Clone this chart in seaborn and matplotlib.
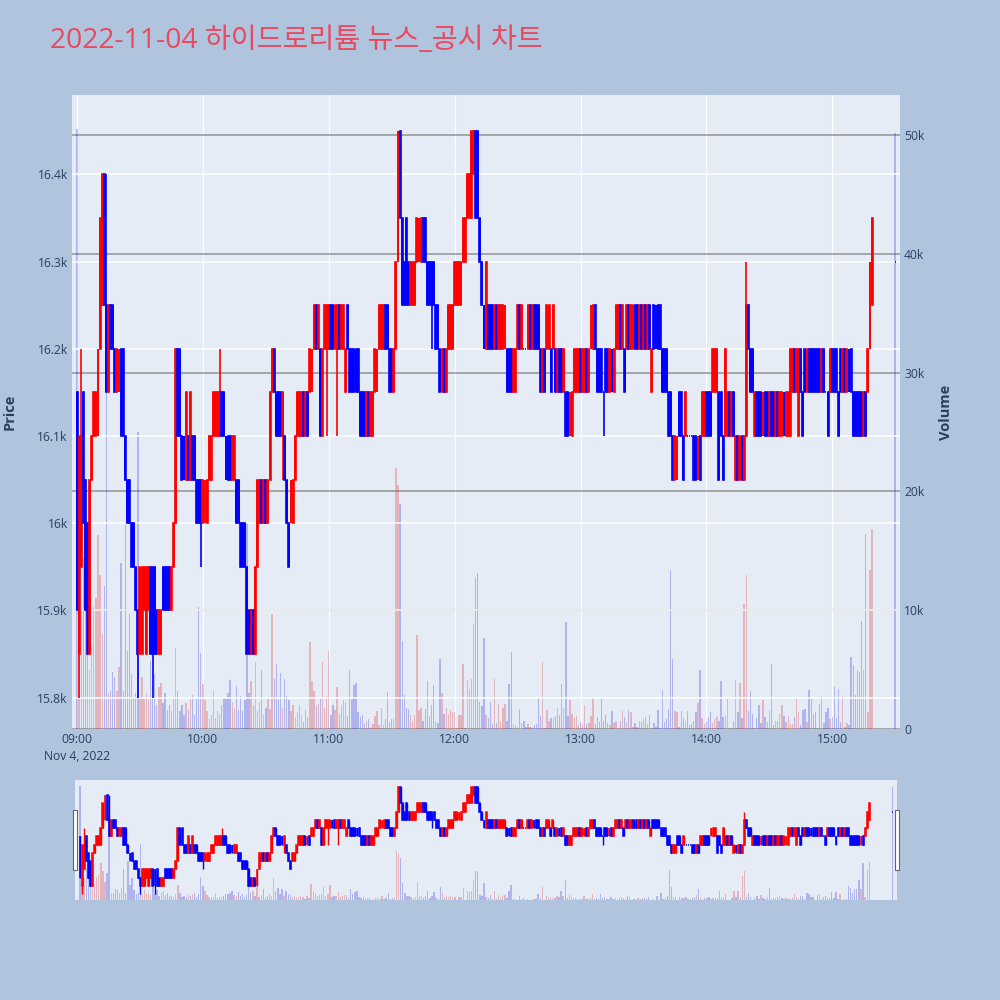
import numpy as np
import pandas as pd
import matplotlib
matplotlib.use("Agg")
import matplotlib.pyplot as plt
import seaborn as sns
from matplotlib.patches import Rectangle

sns.set_style("white")
plt.rcParams["font.family"] = ["Open Sans", "Noto Sans CJK KR", "DejaVu Sans"]

# ---------------- data (1-minute candles, 2022-11-04) ----------------
times = list(pd.date_range("2022-11-04 09:00", periods=380, freq="min")) + [pd.Timestamp("2022-11-04 15:30")]

open_ = [
    16150, 15850, 15950, 16150, 16050, 16000, 15850, 16050, 16100, 16100,
    16100, 16200, 16250, 16400, 16250, 16150, 16250, 16250, 16200, 16150,
    16150, 16200, 16200, 16100, 16050, 16050, 16000, 16000, 15950, 15900,
    15850, 15850, 15900, 15850, 15900, 15950, 15950, 15950, 15900, 15850,
    15850, 15950, 15950, 15950, 15950, 15900, 15950, 16000, 16200, 16200,
    16100, 16100, 16050, 16100, 16050, 16100, 16100, 16050, 16050, 16050,
    16000, 16000, 16000, 16050, 16050, 16100, 16100, 16100, 16100, 16150,
    16150, 16100, 16100, 16100, 16050, 16050, 16050, 16050, 16000, 16000,
    16000, 15950, 15900, 15850, 15900, 15850, 15950, 16000, 16050, 16000,
    16050, 16000, 16050, 16150, 16200, 16150, 16150, 16150, 16100, 16100,
    16050, 16000, 16000, 16000, 16050, 16100, 16100, 16100, 16150, 16100,
    16150, 16150, 16150, 16200, 16250, 16200, 16200, 16100, 16200, 16200,
    16200, 16250, 16250, 16200, 16200, 16250, 16200, 16200, 16150, 16250,
    16200, 16200, 16200, 16200, 16200, 16150, 16150, 16150, 16100, 16150,
    16100, 16100, 16150, 16150, 16200, 16200, 16200, 16250, 16250, 16200,
    16200, 16150, 16200, 16300, 16450, 16350, 16300, 16350, 16300, 16250,
    16250, 16250, 16300, 16300, 16300, 16350, 16350, 16300, 16300, 16300,
    16300, 16250, 16250, 16200, 16150, 16200, 16150, 16200, 16200, 16200,
    16250, 16250, 16250, 16250, 16300, 16300, 16350, 16350, 16350, 16400,
    16450, 16450, 16350, 16300, 16250, 16200, 16250, 16250, 16250, 16200,
    16250, 16200, 16200, 16200, 16200, 16200, 16200, 16200, 16150, 16150,
    16200, 16250, 16200, 16200, 16200, 16200, 16250, 16200, 16250, 16250,
    16250, 16200, 16150, 16200, 16200, 16200, 16200, 16200, 16200, 16150,
    16200, 16200, 16150, 16150, 16150, 16100, 16100, 16150, 16150, 16150,
    16200, 16150, 16150, 16200, 16150, 16200, 16200, 16250, 16200, 16200,
    16200, 16150, 16200, 16200, 16150, 16200, 16150, 16200, 16200, 16250,
    16200, 16200, 16200, 16250, 16200, 16200, 16250, 16250, 16200, 16250,
    16200, 16250, 16200, 16250, 16150, 16250, 16250, 16250, 16250, 16200,
    16200, 16200, 16150, 16150, 16100, 16050, 16050, 16150, 16150, 16100,
    16100, 16100, 16100, 16100, 16100, 16100, 16050, 16100, 16100, 16100,
    16150, 16150, 16150, 16150, 16150, 16150, 16150, 16150, 16100, 16100,
    16100, 16150, 16100, 16150, 16050, 16100, 16050, 16100, 16050, 16100,
    16250, 16200, 16200, 16100, 16150, 16150, 16150, 16100, 16150, 16150,
    16100, 16150, 16150, 16100, 16150, 16100, 16100, 16150, 16100, 16100,
    16100, 16150, 16200, 16150, 16100, 16200, 16150, 16200, 16150, 16200,
    16200, 16200, 16200, 16200, 16200, 16150, 16200, 16150, 16150, 16150,
    16200, 16200, 16200, 16150, 16200, 16150, 16200, 16150, 16200, 16200,
    16150, 16150, 16150, 16150, 16150, 16100, 16150, 16150, 16200, 16250,
    16300,
]

close = [
    15900, 16100, 16100, 16000, 15900, 15850, 16050, 16100, 16150, 16150,
    16200, 16350, 16400, 16250, 16150, 16250, 16200, 16200, 16150, 16200,
    16200, 16100, 16100, 16050, 16000, 16000, 15950, 15950, 15900, 15850,
    15950, 15950, 15950, 15950, 15950, 15850, 15850, 15850, 15850, 15900,
    15900, 15900, 15900, 15900, 15900, 15950, 16000, 16200, 16100, 16100,
    16050, 16050, 16150, 16050, 16150, 16050, 16050, 16000, 16000, 16000,
    16050, 16050, 16050, 16100, 16100, 16150, 16150, 16150, 16150, 16100,
    16100, 16050, 16050, 16050, 16100, 16100, 16000, 16000, 15950, 15950,
    15950, 15850, 15850, 15900, 15850, 15950, 16050, 16050, 16000, 16050,
    16000, 16050, 16150, 16200, 16150, 16100, 16100, 16100, 16150, 16050,
    16000, 15950, 16050, 16050, 16100, 16150, 16150, 16150, 16100, 16150,
    16100, 16200, 16200, 16250, 16200, 16250, 16100, 16200, 16250, 16250,
    16250, 16200, 16200, 16250, 16250, 16200, 16250, 16250, 16200, 16200,
    16150, 16150, 16150, 16150, 16150, 16100, 16100, 16100, 16150, 16100,
    16150, 16150, 16200, 16200, 16250, 16250, 16250, 16200, 16200, 16150,
    16150, 16200, 16300, 16450, 16350, 16250, 16250, 16250, 16250, 16300,
    16300, 16300, 16350, 16350, 16350, 16300, 16300, 16250, 16250, 16250,
    16250, 16200, 16200, 16150, 16200, 16150, 16200, 16250, 16250, 16250,
    16300, 16300, 16300, 16300, 16350, 16350, 16400, 16400, 16450, 16450,
    16350, 16350, 16300, 16250, 16200, 16300, 16200, 16200, 16200, 16250,
    16200, 16250, 16250, 16250, 16250, 16150, 16150, 16150, 16200, 16200,
    16250, 16200, 16250, 16200, 16200, 16250, 16200, 16250, 16200, 16200,
    16200, 16150, 16200, 16150, 16250, 16250, 16150, 16250, 16150, 16200,
    16150, 16150, 16200, 16100, 16100, 16150, 16150, 16200, 16200, 16200,
    16150, 16200, 16200, 16150, 16200, 16250, 16250, 16200, 16150, 16150,
    16150, 16150, 16150, 16150, 16200, 16150, 16200, 16250, 16250, 16200,
    16250, 16150, 16250, 16200, 16250, 16250, 16200, 16200, 16250, 16200,
    16250, 16200, 16250, 16200, 16200, 16200, 16200, 16200, 16200, 16150,
    16150, 16150, 16100, 16100, 16050, 16100, 16100, 16100, 16100, 16050,
    16150, 16100, 16100, 16100, 16050, 16050, 16100, 16050, 16150, 16150,
    16100, 16100, 16100, 16200, 16200, 16200, 16050, 16100, 16050, 16200,
    16150, 16100, 16150, 16100, 16100, 16050, 16100, 16050, 16100, 16250,
    16200, 16150, 16150, 16150, 16100, 16100, 16100, 16150, 16100, 16100,
    16150, 16100, 16100, 16150, 16100, 16150, 16150, 16100, 16150, 16150,
    16200, 16200, 16150, 16200, 16200, 16150, 16100, 16150, 16200, 16150,
    16150, 16150, 16150, 16150, 16150, 16200, 16150, 16150, 16100, 16200,
    16150, 16150, 16150, 16100, 16150, 16200, 16150, 16200, 16150, 16150,
    16100, 16100, 16100, 16100, 16100, 16150, 16100, 16200, 16300, 16350,
    16300,
]

volume = [
    50500, 7000, 10000, 14400, 12500, 9000, 5000, 7000, 10300, 11000,
    16300, 13000, 8000, 12000, 38000, 3000, 3200, 4800, 4400, 3200,
    5200, 14000, 3200, 17200, 6600, 9700, 4600, 2700, 3000, 25000,
    2700, 4400, 2500, 3000, 2400, 5700, 2700, 4600, 2000, 3500,
    3900, 2200, 3000, 1600, 2000, 1500, 2500, 6800, 3200, 1500,
    2000, 1200, 2200, 1600, 2500, 2900, 1200, 2600, 10300, 6400,
    3800, 2400, 1500, 800, 1200, 3200, 900, 1500, 1300, 2000,
    2600, 2500, 3000, 4100, 2200, 1800, 3600, 1600, 2800, 1500,
    2400, 17300, 3000, 4000, 2000, 5600, 1500, 2200, 5000, 1200,
    1800, 2500, 1700, 9700, 4200, 5500, 2500, 4700, 1800, 4200,
    2800, 2400, 1500, 2000, 1000, 1400, 2000, 1200, 600, 1600,
    1000, 7300, 4000, 3200, 1900, 2100, 2600, 5600, 1800, 2800,
    6600, 1200, 2000, 1600, 3500, 1300, 2000, 2400, 2200, 1100,
    5000, 2500, 3700, 3900, 1400, 1000, 1200, 400, 700, 800,
    200, 400, 1100, 1500, 300, 1800, 300, 800, 3100, 600,
    800, 800, 22000, 20500, 18900, 7400, 2900, 1800, 1700, 1200,
    700, 1200, 7900, 1600, 1800, 700, 1700, 4000, 1100, 2000,
    3700, 700, 500, 5900, 3000, 1300, 1800, 1300, 1600, 1400,
    1400, 100, 1200, 1200, 5500, 100, 4100, 3400, 4200, 8800,
    12700, 13100, 2300, 1900, 7700, 1200, 900, 2300, 400, 4200,
    500, 2100, 700, 1800, 2100, 700, 3800, 6500, 400, 300,
    200, 1700, 500, 700, 200, 400, 200, 200, 300, 400,
    2700, 1100, 5600, 100, 1600, 700, 900, 900, 1100, 1800,
    1200, 3800, 1800, 9000, 1100, 2400, 1300, 900, 1100, 300,
    600, 400, 2000, 400, 500, 1100, 2700, 400, 1000, 600,
    2600, 700, 1200, 500, 300, 1500, 500, 700, 100, 700,
    1500, 1000, 600, 1600, 1400, 200, 500, 200, 700, 600,
    800, 1000, 400, 1200, 100, 500, 200, 1600, 100, 3300,
    600, 800, 1700, 13400, 5900, 1500, 1400, 200, 1500, 900,
    700, 1500, 300, 400, 700, 1400, 2200, 5000, 900, 400,
    700, 1000, 1400, 500, 800, 1000, 700, 4000, 1000, 1200,
    2600, 100, 100, 700, 4100, 1400, 3900, 900, 10500, 13000,
    1500, 3200, 1300, 100, 900, 2000, 500, 2400, 1000, 600,
    1500, 5500, 300, 700, 700, 1300, 2000, 1100, 600, 1100,
    400, 400, 1000, 2500, 1400, 300, 1600, 1700, 600, 3300,
    2500, 1300, 1400, 100, 2100, 2800, 500, 1400, 1800, 800,
    1000, 3500, 900, 3400, 600, 2800, 200, 500, 300, 6100,
    5400, 2900, 5000, 4800, 9100, 5000, 16400, 1400, 13400, 16800,
    50200,
]

# candles whose high/low reach beyond the body (index, extreme price)
wick_idx = [1, 2, 14, 29, 36, 59, 68, 98, 119, 124, 169, 251, 319]
wick_to = [15800, 16200, 16400, 15800, 15800, 15950, 16200, 16050, 16100, 16100, 16200, 16100, 16300]

price_ticks = [15800, 15900, 16000, 16100, 16200, 16300, 16400]
price_labels = ["15.8k", "15.9k", "16k", "16.1k", "16.2k", "16.3k", "16.4k"]
vol_ticks = [0, 10000, 20000, 30000, 40000, 50000]
vol_labels = ["0", "10k", "20k", "30k", "40k", "50k"]
hour_labels = ["09:00\nNov 4, 2022", "10:00", "11:00", "12:00", "13:00", "14:00", "15:00"]
title = "2022-11-04 하이드로리튬 뉴스_공시 차트"

# ---------------- derived ----------------
t0 = times[0]
x = np.array([(t - t0).total_seconds() / 60.0 for t in times])
o = np.array(open_, dtype=float)
c = np.array(close, dtype=float)
v = np.array(volume, dtype=float)
hi = np.maximum(o, c)
lo = np.minimum(o, c)
for i, w in zip(wick_idx, wick_to):
    if w > hi[i]:
        hi[i] = w
    else:
        lo[i] = w
up = c > o
ccol = np.where(up, "#FF0000", "#0000FF")
direction = np.where(up, "up", "down")
hour_ticks = [60 * k for k in range(7)]

XLIM = (-2.4, 392.3)
PLIM = (15764, 16491)
VLIM = (0, 53370)

FG = "#2a3f5f"
BG = "#B0C4DE"
PLOT_BG = "#E5ECF6"

fig = plt.figure(figsize=(10, 10), dpi=100, facecolor=BG)


def draw(ax_v, ax_p, lw_body, lw_wick, vol_width, body_width):
    vdf = pd.DataFrame({"x": x, "volume": v, "dir": direction})
    sns.barplot(data=vdf, x="x", y="volume", hue="dir", native_scale=True,
                palette={"up": "#FF0000", "down": "#0000FF"}, dodge=False,
                width=vol_width, alpha=0.27, linewidth=0, errorbar=None,
                legend=False, ax=ax_v)
    ax_p.vlines(x, lo, hi, colors=ccol, linewidth=lw_wick, zorder=3)
    ax_p.bar(x, np.maximum(o, c) - np.minimum(o, c), bottom=np.minimum(o, c),
             width=body_width, color=ccol, edgecolor=ccol, linewidth=lw_body, zorder=4)
    ax_v.set_xlim(*XLIM)
    ax_p.set_xlim(*XLIM)
    ax_v.set_ylim(*VLIM)
    ax_p.set_ylim(*PLIM)
    ax_v.set_xlabel("")
    ax_v.set_ylabel("")
    for a in (ax_v, ax_p):
        for s in a.spines.values():
            s.set_visible(False)


# ---------------- main chart ----------------
ax_v = fig.add_axes([0.072, 0.271, 0.828, 0.634])
ax_v.set_facecolor(PLOT_BG)
ax_p = ax_v.twinx()
ax_p.patch.set_visible(False)
draw(ax_v, ax_p, 1.2, 1.2, 0.65, 0.45)

ax_v.set_axisbelow(True)
ax_p.set_axisbelow(True)
ax_v.yaxis.tick_right()
ax_v.set_yticks(vol_ticks)
ax_v.set_yticklabels(vol_labels)
ax_v.grid(axis="y", color="#9a9a9a", linewidth=1.2)
ax_v.set_xticks(hour_ticks)
ax_v.set_xticklabels(hour_labels, linespacing=1.35)
ax_v.grid(axis="x", color="white", linewidth=0.8)
ax_v.tick_params(axis="both", length=0, labelsize=8.7, colors=FG, pad=3)
for lab in ax_v.get_xticklabels():
    lab.set_horizontalalignment("center")

ax_p.yaxis.tick_left()
ax_p.set_yticks(price_ticks)
ax_p.set_yticklabels(price_labels)
ax_p.grid(axis="y", color="white", linewidth=1.1)
ax_p.tick_params(axis="y", length=0, labelsize=8.7, colors=FG, pad=3)
ax_p.tick_params(axis="x", bottom=False, labelbottom=False)

fig.text(0.010, 0.588, "Price", rotation=90, ha="center", va="center",
         fontsize=10.5, fontweight="bold", color=FG)
fig.text(0.946, 0.588, "Volume", rotation=90, ha="center", va="center",
         fontsize=10.5, fontweight="bold", color=FG)
fig.text(0.050, 0.959, title, ha="left", va="center", fontsize=20.3, color="#E84A5F")

# ---------------- range slider ----------------
rs_v = fig.add_axes([0.075, 0.100, 0.822, 0.120])
rs_v.set_facecolor(PLOT_BG)
rs_p = rs_v.twinx()
rs_p.patch.set_visible(False)
draw(rs_v, rs_p, 1.1, 1.0, 0.65, 0.45)
for a in (rs_v, rs_p):
    a.set_xticks([])
    a.set_yticks([])
    a.grid(False)
for hx in (-0.0025, 0.9975):
    rs_p.add_patch(Rectangle((hx, 0.25), 0.005, 0.5, transform=rs_p.transAxes,
                             facecolor="white", edgecolor="#666666", linewidth=0.8,
                             clip_on=False, zorder=10))

fig.savefig("out.png", dpi=100, facecolor=BG)
